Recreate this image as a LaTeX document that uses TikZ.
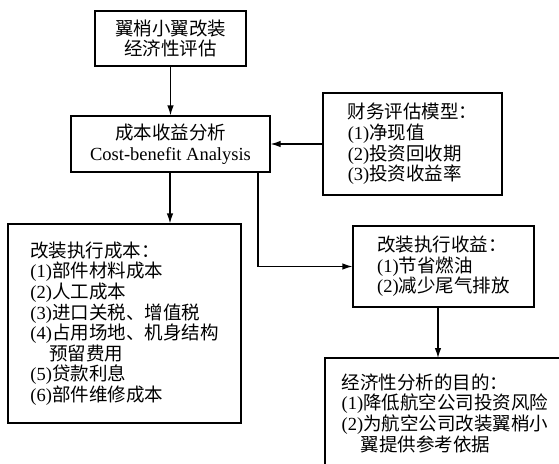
\documentclass[tikz,border=0pt]{standalone}
\usepackage{fontspec}
\setmainfont{Liberation Serif}
\newfontfamily\cjk{Noto Sans CJK SC}
\usetikzlibrary{arrows.meta}
\newcommand\zh[1]{{\cjk #1}}
\begin{document}
\begin{tikzpicture}[x=1pt,y=-1pt,
  line width=1.2pt,
  txt/.style={inner sep=0pt, font=\fontsize{18.5}{20.6}\selectfont},
  box/.style={draw, txt},
  arr/.style={-{Latex[length=10pt,width=6.5pt]}}]
\useasboundingbox (0,0) rectangle (559,463);
\clip (0,0) rectangle (559,463);
\node[box, align=center, minimum width=151pt, minimum height=55pt] (top) at (170.5,38.5)
  {\zh{翼梢小翼改装}\\\zh{经济性评估}};
\node[box, align=center, minimum width=199pt, minimum height=56pt] (cba) at (170.5,144)
  {\zh{成本收益分析}\\Cost-benefit Analysis};
\node[box, align=left, minimum width=179pt, minimum height=102pt] (fin) at (412.5,144)
  {\zh{财务评估模型：}\\(1)\zh{净现值}\\(2)\zh{投资回收期}\\(3)\zh{投资收益率}};
\node[box, align=left, minimum width=233pt, minimum height=199pt] (cost) at (124.5,323.5)
  {\zh{改装执行成本：}\\(1)\zh{部件材料成本}\\(2)\zh{人工成本}\\(3)\zh{进口关税、增值税}\\(4)\zh{占用场地、机身结构}\\\hspace*{19pt}\zh{预留费用}\\(5)\zh{贷款利息}\\(6)\zh{部件维修成本}};
\node[box, align=left, minimum width=181pt, minimum height=81pt] (ben) at (443.5,266.5)
  {\zh{改装执行收益：}\\(1)\zh{节省燃油}\\(2)\zh{减少尾气排放}};
\coordinate (goaltl) at (325,358);
\draw (325,480) -- (goaltl) -- (580,358);
\node[txt, align=left, anchor=north west] (goal) at (341,373)
  {\zh{经济性分析的目的：}\\(1)\zh{降低航空公司投资风险}\\(2)\zh{为航空公司改装翼梢小}\\\hspace*{19pt}\zh{翼提供参考依据}};
\draw[arr] (top) -- (cba);
\draw[arr] (fin) -- (cba);
\draw[arr] (cba.south -| cost.north) ++(45.5,0) -- ([xshift=45.5pt]cost.north);
\draw[arr] ([xshift=87.5pt]cba.south) |- (ben.west);
\draw[arr] ([xshift=-5.5pt]ben.south) -- ([xshift=-5.5pt]ben.south |- goaltl);
\end{tikzpicture}
\end{document}
